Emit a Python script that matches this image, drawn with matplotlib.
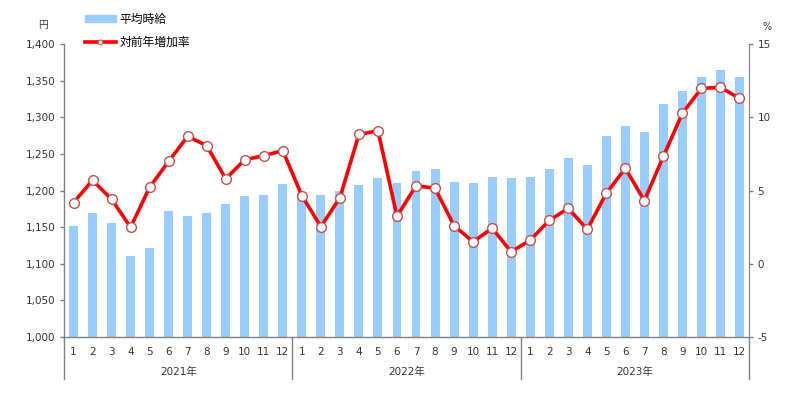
import matplotlib
matplotlib.use("Agg")
import matplotlib.pyplot as plt
from matplotlib.lines import Line2D
from matplotlib.patches import Patch
from matplotlib.transforms import blended_transform_factory, offset_copy

plt.rcParams['font.family'] = ['DejaVu Sans', 'Noto Sans CJK JP']
plt.rcParams['axes.unicode_minus'] = False

# monthly data, 2021/1 .. 2023/12
years = ["2021年", "2022年", "2023年"]
months = [str(m) for m in range(1, 13)] * 3
wage = [1152, 1169, 1155, 1111, 1122, 1172, 1165, 1169, 1182, 1192, 1194, 1209,
        1196, 1194, 1200, 1208, 1217, 1210, 1227, 1229, 1212, 1210, 1218, 1217,
        1218, 1229, 1244, 1235, 1274, 1288, 1280, 1318, 1336, 1355, 1365, 1355]
growth = [4.17, 5.70, 4.40, 2.49, 5.22, 6.99, 8.70, 8.06, 5.80, 7.10, 7.38, 7.72,
          4.65, 2.53, 4.51, 8.83, 9.08, 3.24, 5.33, 5.15, 2.60, 1.50, 2.42, 0.82,
          1.60, 2.96, 3.78, 2.35, 4.81, 6.51, 4.31, 7.33, 10.27, 11.97, 12.04, 11.29]
left_ticks = list(range(1000, 1401, 50))
right_ticks = [-5, 0, 5, 10, 15]

bar_color = "#99CCFF"
line_color = "#FF0000"
edge_red = "#C0504D"
axis_gray = "#808080"
text_col = "#333333"

fig = plt.figure(figsize=(8, 3.98), dpi=100)
ax = fig.add_axes([0.08, 0.1533, 0.85625, 0.7361])
x = list(range(len(wage)))

ax.bar(x, wage, width=0.47, color=bar_color, zorder=2)
ax.set_xlim(-0.5, len(wage) - 0.5)
ax.set_ylim(1000, 1400)
ax.set_yticks(left_ticks)
ax.set_yticklabels([f"{v:,}" for v in left_ticks])
ax.set_xticks(x)
ax.set_xticklabels(months)
ax.tick_params(axis='x', length=0, pad=7, labelsize=7.5, colors=text_col)
ax.tick_params(axis='y', length=3, width=1, color=axis_gray, labelsize=7.5,
               colors=text_col, pad=3)
for s in ["top", "right"]:
    ax.spines[s].set_visible(False)
for s in ["left", "bottom"]:
    ax.spines[s].set_color(axis_gray)
    ax.spines[s].set_linewidth(1)

ax2 = ax.twinx()
ax2.plot(x, growth, color=line_color, lw=2.6, marker="o", markersize=7,
         markerfacecolor="white", markeredgecolor=edge_red, markeredgewidth=1.0,
         zorder=3)
ax2.set_ylim(-5, 15)
ax2.set_yticks(right_ticks)
ax2.tick_params(axis='y', length=3, width=1, color=axis_gray, labelsize=7.5,
                colors=text_col, pad=3)
for s in ["top", "left", "bottom"]:
    ax2.spines[s].set_visible(False)
ax2.spines["right"].set_color(axis_gray)

# year groups below the month labels
trans = blended_transform_factory(ax.transData, ax.transAxes)
for i, yr in enumerate(years):
    ax.text(i * 12 + 5.5, 0, yr, transform=offset_copy(trans, fig=fig, y=-35, units='dots'),
            ha="center", va="center", fontsize=7.5, color=text_col)
for b in [-0.5, 11.5, 23.5, 35.5]:
    ax.add_line(Line2D([b, b], [0, -42 / 293], transform=trans, color=axis_gray,
                       lw=1, clip_on=False))

# unit labels
fig.text(43 / 800, 1 - 25 / 398, "円", ha="center", va="center", fontsize=7, color=text_col)
fig.text(767 / 800, 1 - 27 / 398, "%", ha="center", va="center", fontsize=7, color=text_col)

handles = [Patch(color=bar_color),
           Line2D([], [], color=line_color, lw=2.6, marker="o", markersize=3.5,
                  markerfacecolor="white", markeredgecolor=edge_red, markeredgewidth=0.8)]
fig.legend(handles, ["平均時給", "対前年増加率"], loc="upper left",
           bbox_to_anchor=(85 / 800, 1 - 13 / 398), frameon=False, fontsize=8.5,
           handlelength=2.6, handleheight=0.5, handletextpad=0.3, labelspacing=0.8,
           borderaxespad=0, borderpad=0)

fig.savefig("out.png", dpi=100)
